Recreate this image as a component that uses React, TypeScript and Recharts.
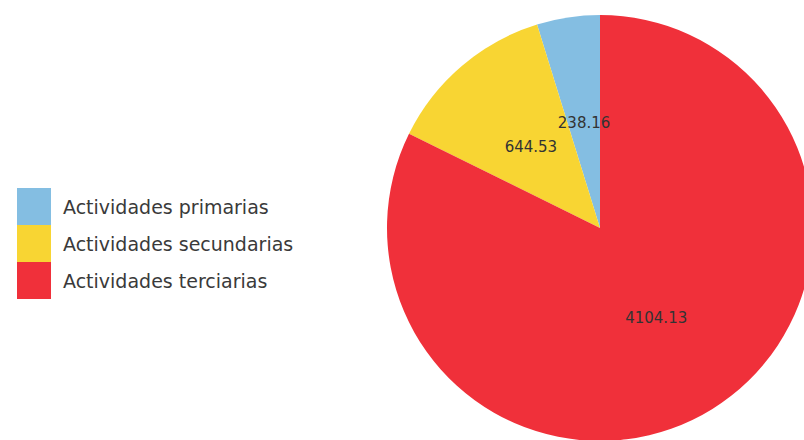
import React from 'react';
import { PieChart, Pie, Cell } from 'recharts';

const categories = ['Actividades primarias', 'Actividades secundarias', 'Actividades terciarias'];
const values = [238.16, 644.53, 4104.13];
const colors = ['#84bee2', '#f8d533', '#f0303a'];

const data = categories.map((name, i) => ({ name, value: values[i] }));

const RADIAN = Math.PI / 180;

const renderLabel = ({ cx, cy, midAngle, outerRadius, value }: any) => {
  const r = outerRadius * 0.5;
  const x = cx + r * Math.cos(-midAngle * RADIAN);
  const y = cy + r * Math.sin(-midAngle * RADIAN);
  return (
    <text x={x} y={y} fill="#333" fontSize={15} fontFamily="DejaVu Sans" textAnchor="middle" dominantBaseline="central">
      {value.toFixed(2)}
    </text>
  );
};

export default function App() {
  return (
    <div style={{ position: 'absolute', left: 0, top: 0, width: 804, height: 440, overflow: 'hidden', background: '#fff' }}>
      <div
        style={{
          position: 'absolute',
          left: 17,
          top: 188,
          fontFamily: 'DejaVu Sans',
          fontSize: 19,
          color: '#3a3a3a',
          zIndex: 1,
        }}
      >
        {categories.map((c, i) => (
          <div key={c} style={{ display: 'flex', alignItems: 'center', height: 37 }}>
            <div style={{ width: 34, height: 37, background: colors[i], marginRight: 12 }} />
            <span>{c}</span>
          </div>
        ))}
      </div>
      <PieChart width={804} height={440} margin={{ top: 0, right: 0, bottom: 0, left: 0 }}>
        <Pie
          data={data}
          dataKey="value"
          nameKey="name"
          cx={600}
          cy={228}
          outerRadius={213}
          startAngle={90}
          endAngle={450}
          stroke="none"
          label={renderLabel}
          labelLine={false}
          isAnimationActive={false}
        >
          {data.map((d, i) => (
            <Cell key={d.name} fill={colors[i]} />
          ))}
        </Pie>
      </PieChart>
    </div>
  );
}
